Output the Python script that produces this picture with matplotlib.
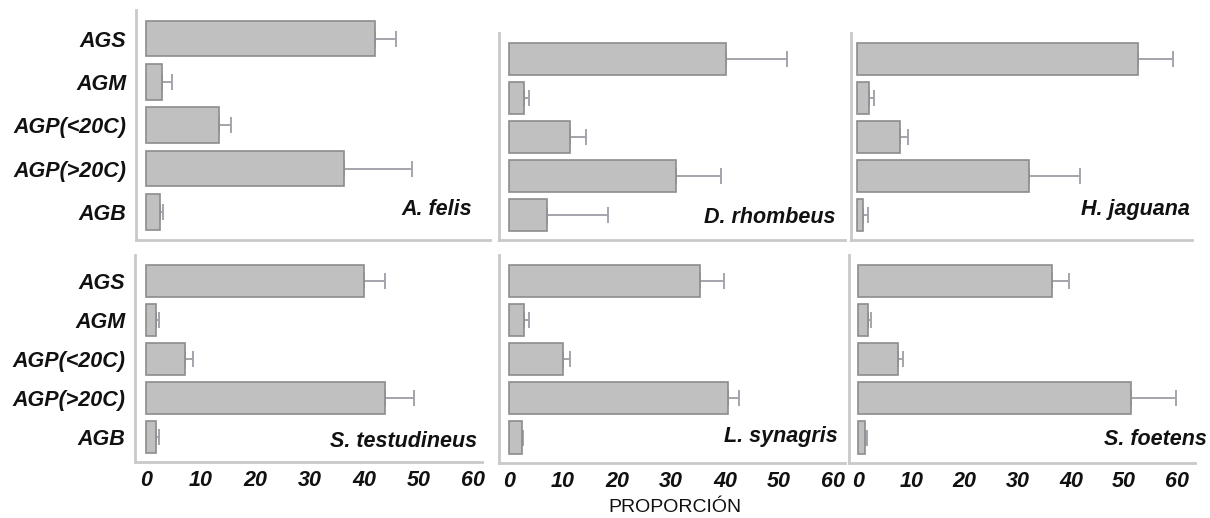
import matplotlib
matplotlib.use("Agg")
import matplotlib.pyplot as plt
import numpy as np

plt.rcParams['font.family'] = ['Liberation Sans', 'DejaVu Sans']

categories = ["AGS", "AGM", "AGP(<20C)", "AGP(>20C)", "AGB"]
x_ticks = [0, 10, 20, 30, 40, 50, 60]
species = ["A. felis", "D. rhombeus", "H. jaguana",
           "S. testudineus", "L. synagris", "S. foetens"]

felis_mean = [42.0, 3.0, 13.4, 36.4, 2.5]
felis_err = [3.9, 1.7, 2.2, 12.4, 0.7]
rhombeus_mean = [40.4, 2.8, 11.4, 31.1, 7.0]
rhombeus_err = [11.4, 0.9, 2.9, 8.4, 11.4]
jaguana_mean = [52.7, 2.2, 8.1, 32.3, 1.2]
jaguana_err = [6.6, 1.0, 1.5, 9.5, 0.9]
testudineus_mean = [39.9, 1.8, 7.2, 43.9, 1.9]
testudineus_err = [4.0, 0.6, 1.5, 5.2, 0.5]
synagris_mean = [35.4, 2.8, 10.0, 40.6, 2.4]
synagris_err = [4.4, 0.9, 1.3, 1.9, 0.2]
foetens_mean = [36.5, 1.9, 7.5, 51.3, 1.3]
foetens_err = [3.2, 0.5, 1.0, 8.5, 0.4]

means = [felis_mean, rhombeus_mean, jaguana_mean,
         testudineus_mean, synagris_mean, foetens_mean]
errs = [felis_err, rhombeus_err, jaguana_err,
        testudineus_err, synagris_err, foetens_err]

W, H = 1210, 518
# layout in pixels: left, right, top, bottom, xlim, label (right x, baseline y)
layout = [
    (136, 490, 10, 240, (-1.83, 63.1), (472, 215)),
    (499, 845, 33, 240, (-1.86, 62.6), (835, 223)),
    (851, 1192, 33, 240, (-1.1, 62.9), (1190, 215)),
    (135, 482, 255, 462, (-2.0, 61.6), (477, 447)),
    (499, 845, 255, 463, (-1.85, 62.2), (838, 442)),
    (849, 1195, 255, 463, (-1.7, 63.3), (1207, 445)),
]

fig = plt.figure(figsize=(W / 100, H / 100), dpi=100)
txt = '#111111'
spine_c = '#c9c9c9'

for k in range(6):
    l, r, t, b, xl, (lx, ly) = layout[k]
    ax = fig.add_axes([l / W, (H - b) / H, (r - l) / W, (b - t) / H])
    y = np.arange(len(categories))
    ax.barh(y, means[k], height=0.82, color='#c0c0c0',
            edgecolor='#8c8c8c', linewidth=1.2, zorder=2)
    ax.errorbar(means[k], y, xerr=[np.zeros(5), errs[k]], fmt='none',
                ecolor='#a4a4ac', elinewidth=1.4, capsize=6, capthick=1.4,
                zorder=1)
    ax.set_xlim(*xl)
    ax.set_ylim(4.65, -0.66)
    for s in ['top', 'right']:
        ax.spines[s].set_visible(False)
    for s in ['left', 'bottom']:
        ax.spines[s].set_color(spine_c)
        ax.spines[s].set_linewidth(2)
    ax.tick_params(length=0)
    ax.set_yticks(y)
    if k % 3 == 0:
        ax.set_yticklabels(categories, fontsize=15.5, fontweight='bold',
                           fontstyle='italic', color=txt)
        ax.tick_params(axis='y', pad=7)
    else:
        ax.set_yticklabels([])
    ax.set_xticks(x_ticks)
    if k >= 3:
        ax.set_xticklabels([str(v) for v in x_ticks], fontsize=15.5,
                           fontweight='bold', fontstyle='italic', color=txt)
        ax.tick_params(axis='x', pad=6)
    else:
        ax.set_xticklabels([])
    ax.patch.set_alpha(0)
    fig.text(lx / W, (H - ly) / H, species[k], ha='right', va='baseline',
             fontsize=15.5, fontweight='bold', fontstyle='italic', color=txt)

fig.text(675 / W, (H - 508) / H, "PROPORCIÓN", ha='center', va='center',
         fontsize=14, color=txt)

fig.savefig("out.png", dpi=100)
